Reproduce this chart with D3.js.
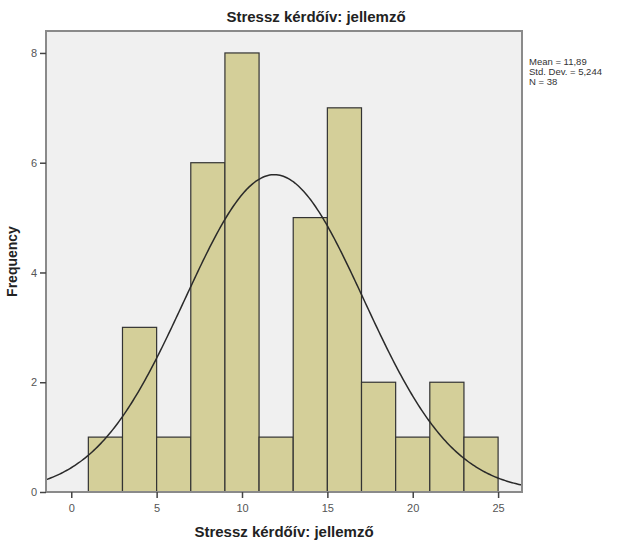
<!DOCTYPE html>
<meta charset="utf-8">
<style>
body { margin: 0; background: #fff; }
text { font-family: Arial, "Liberation Sans", sans-serif; }
</style>
<body>
<script src="https://cdn.jsdelivr.net/npm/d3@7"></script>
<script>

// histogram data
var binStarts = [1, 3, 5, 7, 9, 11, 13, 15, 17, 19, 21, 23];
var counts = [1, 3, 1, 6, 8, 1, 5, 7, 2, 1, 2, 1];
var binWidth = 2;
var xTicks = [0, 5, 10, 15, 20, 25];
var yTicks = [0, 2, 4, 6, 8];
var stats = ["Mean = 11,89", "Std. Dev. = 5,244", "N = 38"];
var mean = 11.89, sd = 5.244, n = 38;

var width = 624, height = 545;
var pLeft = 46, pRight = 522, pTop = 31, pBottom = 492;

var svg = d3.select("body").append("svg")
    .attr("width", width)
    .attr("height", height);

var x = d3.scaleLinear().domain([-1.48, 26.4]).range([pLeft, pRight]);
var y = d3.scaleLinear().domain([0, 8.4]).range([pBottom, pTop]);

// plot background
svg.append("rect")
    .attr("x", pLeft).attr("y", pTop)
    .attr("width", pRight - pLeft).attr("height", pBottom - pTop)
    .style("fill", "#f0f0f0")
    .style("stroke", "none");

svg.append("clipPath").attr("id", "clip")
  .append("rect")
    .attr("x", pLeft).attr("y", pTop)
    .attr("width", pRight - pLeft).attr("height", pBottom - pTop);

svg.selectAll("rect.bar")
    .data(counts)
    .enter()
    .append("rect")
    .attr("class", "bar")
    .attr("x", function(d, i) { return x(binStarts[i]); })
    .attr("y", function(d) { return y(d); })
    .attr("width", function(d, i) { return x(binStarts[i] + binWidth) - x(binStarts[i]); })
    .attr("height", function(d) { return y(0) - y(d); })
    .style("fill", "#d4cf99")
    .style("stroke", "#333")
    .style("stroke-width", 1.2);

// normal curve scaled to counts
var pts = d3.range(x.domain()[0], x.domain()[1] + 0.05, 0.1).map(function(v) {
  var dens = Math.exp(-0.5 * Math.pow((v - mean) / sd, 2)) / (sd * Math.sqrt(2 * Math.PI));
  return [v, n * binWidth * dens];
});

svg.append("path")
    .datum(pts)
    .attr("clip-path", "url(#clip)")
    .attr("d", d3.line().x(function(d) { return x(d[0]); }).y(function(d) { return y(d[1]); }))
    .style("fill", "none")
    .style("stroke", "#2a2a2a")
    .style("stroke-width", 1.5);

// frame
svg.append("rect")
    .attr("x", pLeft).attr("y", pTop)
    .attr("width", pRight - pLeft).attr("height", pBottom - pTop)
    .style("fill", "none")
    .style("stroke", "#8a8a8a")
    .style("stroke-width", 2);

// axes
var xAxis = svg.append("g")
    .attr("transform", "translate(0," + pBottom + ")")
    .call(d3.axisBottom(x).tickValues(xTicks).tickSize(6).tickPadding(6));
var yAxis = svg.append("g")
    .attr("transform", "translate(" + pLeft + ",0)")
    .call(d3.axisLeft(y).tickValues(yTicks).tickSize(6).tickPadding(3));

[xAxis, yAxis].forEach(function(ax) {
  ax.select(".domain").remove();
  ax.selectAll("line").style("stroke", "#444").style("stroke-width", 1.5);
  ax.selectAll("text")
      .style("font-family", "Arial, sans-serif")
      .style("font-size", "11px")
      .style("fill", "#555");
});

svg.append("text")
    .attr("x", 316).attr("y", 22)
    .attr("text-anchor", "middle")
    .text("Stressz kérdőív: jellemző")
    .style("font-size", "15px")
    .style("font-weight", "bold")
    .style("fill", "#222");

svg.append("text")
    .attr("x", (pLeft + pRight) / 2).attr("y", 537)
    .attr("text-anchor", "middle")
    .text("Stressz kérdőív: jellemző")
    .style("font-size", "15px")
    .style("font-weight", "bold")
    .style("fill", "#222");

svg.append("text")
    .attr("transform", "translate(17," + ((pTop + pBottom) / 2) + ") rotate(-90)")
    .attr("text-anchor", "middle")
    .text("Frequency")
    .style("font-size", "14px")
    .style("font-weight", "bold")
    .style("fill", "#222");

svg.selectAll("text.stat")
    .data(stats)
    .enter()
    .append("text")
    .attr("class", "stat")
    .attr("x", 529)
    .attr("y", function(d, i) { return 65 + i * 10; })
    .text(function(d) { return d; })
    .style("font-size", "9.5px")
    .style("fill", "#333");

</script>
</body>
